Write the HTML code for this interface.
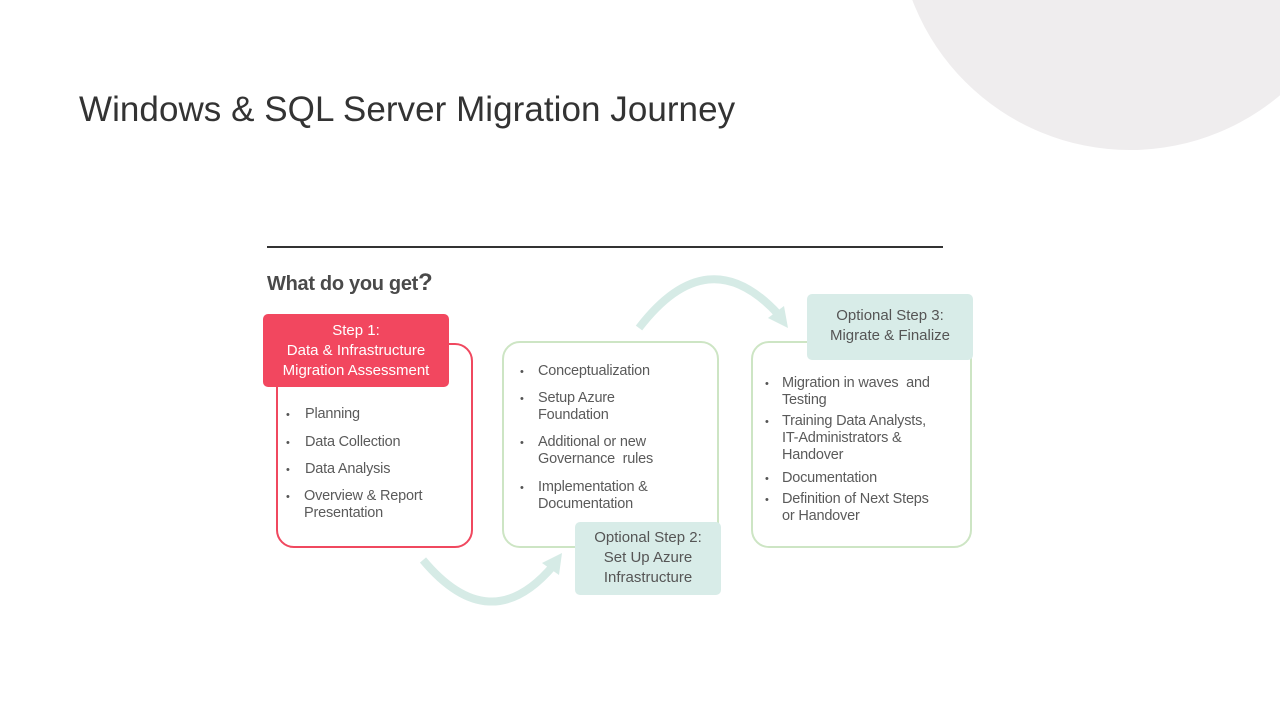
<!DOCTYPE html>
<html><head><meta charset="utf-8"><style>
*{margin:0;padding:0;box-sizing:border-box}
body{width:1280px;height:720px;background:#fff;position:relative;overflow:hidden;font-family:"Liberation Sans",sans-serif;color:#595959}
.a{position:absolute}
.circle{left:897px;top:-316px;width:466px;height:466px;border-radius:50%;background:#efedee}
.title{left:79px;top:90px;font-size:35px;color:#333;white-space:nowrap;letter-spacing:0.05px}
.t{position:absolute;font-size:14.5px;line-height:17px;white-space:nowrap;color:#5a5a5a;letter-spacing:-0.2px}
.b{position:absolute;font-size:11px;color:#555}
.c{text-align:center;font-size:15px;line-height:20px;white-space:nowrap}
</style></head><body>
<div class="a circle"></div>
<div class="a title">Windows &amp; SQL Server Migration Journey</div>
<div class="a" style="left:267px;top:246px;width:676px;height:2px;background:#333"></div>
<div class="a" style="left:267px;top:269px;font-size:20px;font-weight:bold;color:#4a4a4a;letter-spacing:-0.3px">What do you get<span style="font-size:24px">?</span></div>

<svg class="a" style="left:0;top:0" width="1280" height="720">
<path d="M423 560 Q490 640 553 566" fill="none" stroke="#d6ebe6" stroke-width="8"/>
<polygon points="562,553 542,563 559,575" fill="#d6ebe6"/>
<path d="M639 328 Q708 238 778 314" fill="none" stroke="#d6ebe6" stroke-width="8"/>
<polygon points="788,328 768,318 784,306" fill="#d6ebe6"/>
</svg>

<div class="a" style="left:276px;top:343px;width:197px;height:205px;border:2.5px solid #f0485f;border-radius:18px"></div>
<div class="a c" style="left:263px;top:314px;width:186px;height:73px;background:#f2475f;border-radius:5px;color:#fff;padding-top:7px">Step 1:<br>Data &amp; Infrastructure<br>Migration Assessment</div>

<div class="a" style="left:502px;top:341px;width:217px;height:207px;border:2.5px solid #cde5c4;border-radius:18px"></div>
<div class="a" style="left:751px;top:341px;width:221px;height:207px;border:2.5px solid #cde5c4;border-radius:18px"></div>

<div class="a c" style="left:575px;top:522px;width:146px;height:73px;background:#d8ece8;border-radius:5px;padding-top:6px;color:#555">Optional Step 2:<br>Set Up Azure<br>Infrastructure</div>
<div class="a c" style="left:807px;top:294px;width:166px;height:66px;background:#d8ece8;border-radius:5px;padding-top:12px;color:#555">Optional Step 3:<br>Migrate &amp; Finalize</div>

<div class="b" style="left:286px;top:409px">•</div><div class="t" style="left:305px;top:406px">Planning</div>
<div class="b" style="left:286px;top:437px">•</div><div class="t" style="left:305px;top:434px">Data Collection</div>
<div class="b" style="left:286px;top:464px">•</div><div class="t" style="left:305px;top:461px">Data Analysis</div>
<div class="b" style="left:286px;top:491px">•</div><div class="t" style="left:304px;top:488px">Overview &amp; Report<br>Presentation</div>

<div class="b" style="left:520px;top:366px">•</div><div class="t" style="left:538px;top:363px">Conceptualization</div>
<div class="b" style="left:520px;top:393px">•</div><div class="t" style="left:538px;top:390px">Setup Azure<br>Foundation</div>
<div class="b" style="left:520px;top:437px">•</div><div class="t" style="left:538px;top:434px">Additional or new<br>Governance &nbsp;rules</div>
<div class="b" style="left:520px;top:482px">•</div><div class="t" style="left:538px;top:479px">Implementation &amp;<br>Documentation</div>

<div class="b" style="left:765px;top:378px">•</div><div class="t" style="left:782px;top:375px">Migration in waves &nbsp;and<br>Testing</div>
<div class="b" style="left:765px;top:416px">•</div><div class="t" style="left:782px;top:413px">Training Data Analysts,<br>IT-Administrators &amp;<br>Handover</div>
<div class="b" style="left:765px;top:473px">•</div><div class="t" style="left:782px;top:470px">Documentation</div>
<div class="b" style="left:765px;top:494px">•</div><div class="t" style="left:782px;top:491px">Definition of Next Steps<br>or Handover</div>
</body></html>
